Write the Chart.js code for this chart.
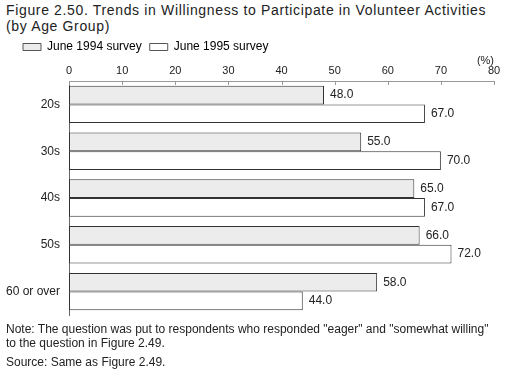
<!DOCTYPE html>
<html lang="en">
<head>
<meta charset="UTF-8">
<title>Figure 2.50</title>
<script src="https://cdn.jsdelivr.net/npm/chart.js@4"></script>
<style>
    html, body { margin: 0; padding: 0; background: #fff; }
    body { width: 513px; height: 371px; position: relative; overflow: hidden;
           font-family: "Liberation Sans", Arial, sans-serif; color: #222; }
    #chartBox { position: absolute; left: 0; top: 0; width: 513px; height: 371px; }
    .title { position: absolute; left: 6px; top: 2px; font-size: 14px; line-height: 16px; letter-spacing: 0.65px; }
    .note { position: absolute; left: 6px; font-size: 12px; line-height: 14px; }
</style>
</head>
<body>
<div class="title">Figure 2.50. Trends in Willingness to Participate in Volunteer Activities<br>(by Age Group)</div>
<div id="chartBox"><canvas id="myChart"></canvas></div>
<div class="note" style="top: 322px;">Note: The question was put to respondents who responded "eager" and "somewhat willing"<br>to the question in Figure 2.49.</div>
<div class="note" style="top: 355px;">Source: Same as Figure 2.49.</div>

<script>
// data
const ageGroups = ['20s', '30s', '40s', '50s', '60 or over'];
const survey1994 = [48.0, 55.0, 65.0, 66.0, 58.0];
const survey1995 = [67.0, 70.0, 67.0, 72.0, 44.0];
const xTicks = [0, 10, 20, 30, 40, 50, 60, 70, 80];

Chart.defaults.font.family = '"Liberation Sans", Arial, sans-serif';
Chart.defaults.color = '#222';

// value labels at the end of each bar
const valueLabels = {
    id: 'valueLabels',
    afterDatasetsDraw(chart) {
        const ctx = chart.ctx;
        ctx.save();
        ctx.font = '12px "Liberation Sans", Arial, sans-serif';
        ctx.fillStyle = '#222';
        ctx.textAlign = 'left';
        ctx.textBaseline = 'middle';
        chart.data.datasets.forEach((ds, i) => {
            chart.getDatasetMeta(i).data.forEach((bar, j) => {
                ctx.fillText(ds.data[j].toFixed(1), bar.x + 6, bar.y);
            });
        });
        ctx.restore();
    }
};

// short tick marks pointing down into the plot from the top axis
const innerTicks = {
    id: 'innerTicks',
    afterDraw(chart) {
        const x = chart.scales.x;
        const ctx = chart.ctx;
        ctx.save();
        ctx.strokeStyle = '#999';
        ctx.lineWidth = 1;
        xTicks.forEach(v => {
            const px = Math.round(x.getPixelForValue(v)) + 0.5;
            ctx.beginPath();
            ctx.moveTo(px, x.bottom);
            ctx.lineTo(px, x.bottom + 4);
            ctx.stroke();
        });
        ctx.restore();
    }
};

// push the legend a bit to the right, like the printed figure
const legendShift = {
    id: 'legendShift',
    afterLayout(chart) {
        chart.legend.left += 15;
    }
};

new Chart(document.getElementById('myChart'), {
    type: 'bar',
    data: {
        labels: ageGroups,
        datasets: [{
            label: 'June 1994 survey',
            data: survey1994,
            backgroundColor: '#ececec',
            borderColor: '#333',
            borderWidth: 1,
            borderSkipped: false,
        }, {
            label: 'June 1995 survey',
            data: survey1995,
            backgroundColor: '#fff',
            borderColor: '#333',
            borderWidth: 1,
            borderSkipped: false,
        }]
    },
    options: {
        indexAxis: 'y',
        responsive: true,
        maintainAspectRatio: false,
        animation: false,
        categoryPercentage: 0.8,
        barPercentage: 1.0,
        layout: { padding: { top: 33, left: 0, right: 19, bottom: 56 } },
        plugins: {
            legend: {
                position: 'top',
                align: 'start',
                labels: {
                    boxWidth: 18,
                    boxHeight: 7,
                    padding: 8,
                    color: '#222',
                    font: { size: 12 },
                    generateLabels(chart) {
                        return chart.data.datasets.map((ds, i) => ({
                            text: ds.label,
                            fillStyle: ds.backgroundColor,
                            strokeStyle: '#555',
                            lineWidth: 1,
                            datasetIndex: i,
                        }));
                    }
                }
            },
            tooltip: { enabled: false },
        },
        scales: {
            x: {
                position: 'top',
                min: 0,
                max: 80,
                afterBuildTicks(scale) {
                    scale.ticks = xTicks.map(v => ({ value: v }));
                },
                afterFit(scale) { scale.height = 18; },
                ticks: { padding: 3, font: { size: 11 }, color: '#222' },
                grid: { display: false, drawTicks: false },
                border: { display: true, color: '#999' },
                title: {
                    display: true,
                    text: '(%)',
                    align: 'end',
                    font: { size: 11 },
                    padding: { top: -9, bottom: 0 },
                },
            },
            y: {
                afterFit(scale) { scale.width = 69; },
                ticks: { padding: 9, font: { size: 12 }, color: '#222' },
                grid: { display: false, drawTicks: false },
                border: { display: true, color: '#666' },
            }
        }
    },
    plugins: [valueLabels, innerTicks, legendShift]
});
</script>
</body>
</html>
